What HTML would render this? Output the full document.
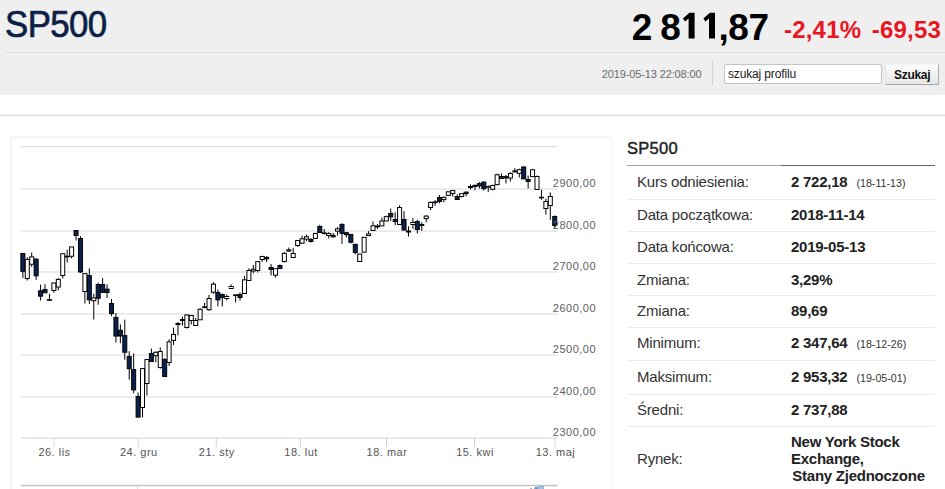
<!DOCTYPE html>
<html><head><meta charset="utf-8"><title>SP500</title>
<style>
*{margin:0;padding:0;box-sizing:border-box}
html,body{width:945px;height:489px;overflow:hidden;background:#fff;font-family:"Liberation Sans",sans-serif}
.a{position:absolute;white-space:nowrap}
#hdr{position:absolute;left:0;top:0;width:945px;height:95px;background:#efefef}
#l1{position:absolute;left:5px;top:52px;width:940px;height:1px;background:#d7d8d9;box-shadow:0 -1px 0 #f5f5f5,0 1px 0 #f5f5f5}
#l2{position:absolute;left:0;top:114px;width:945px;height:3px;background:linear-gradient(#efefef 0,#efefef 33%,#e6e6e6 33%,#e6e6e6 67%,#f4f4f4 67%)}
#title{left:5px;top:6px;font-size:37px;line-height:37px;font-weight:normal;-webkit-text-stroke:0.7px #0c1f47;color:#0c1f47;letter-spacing:-0.6px;transform:scaleX(0.94);transform-origin:0 0}
#price{left:631.8px;top:8.5px;font-size:37px;line-height:37px;font-weight:bold;color:#000;letter-spacing:-0.5px}
.red{font-size:24px;line-height:24px;font-weight:bold;color:#e8161f;top:17.7px}
#date{left:601.7px;top:68.7px;font-size:11px;line-height:11px;color:#6a6a6a;letter-spacing:-0.12px}
#sep{position:absolute;left:712px;top:61px;width:1px;height:25px;background:#d6d6d6}
#inp{position:absolute;left:724px;top:64px;width:158px;height:20px;border:1px solid #c4c4c4;border-radius:2px;background:#fff}
#inpt{left:728px;top:68px;font-size:12px;line-height:12px;color:#1a1a1a;letter-spacing:-0.15px}
#btn{position:absolute;left:885px;top:64px;width:54px;height:21px;border:1px solid;border-color:#f4f4f4 #b0b0b0 #a6a6a6 #e6e6e6;border-radius:1px;background:linear-gradient(#fcfcfc,#e6e6e6)}
#btnt{left:894px;top:68.5px;font-size:12px;line-height:12px;font-weight:bold;color:#111;letter-spacing:-0.3px}
#box{position:absolute;left:11px;top:137px;width:601px;height:360px;border:1px solid #f0f1f3;box-shadow:-1px -1px 0 #f6f7f8}
#chart{position:absolute;left:0;top:0}
.yl{font-size:11px;line-height:11px;color:#606060;letter-spacing:0.5px}
.xl{font-size:11px;line-height:11px;color:#555;letter-spacing:0.5px;width:100px;text-align:center;top:446.7px}
#ptitle{left:627px;top:140.4px;font-size:16.5px;line-height:16px;font-weight:normal;-webkit-text-stroke:0.45px #222;color:#222;letter-spacing:0.3px}
#pl1{position:absolute;left:627px;top:165px;width:154px;height:1px;background:#a0a0a0}
#pl2{position:absolute;left:781px;top:165px;width:154px;height:1px;background:#666}
.sepr{position:absolute;left:627px;width:308px;height:1px;background:#ececec}
.k{font-size:15px;line-height:15px;color:#333;left:637px;letter-spacing:-0.2px}
.v{font-size:15px;line-height:15px;color:#222;font-weight:bold;left:791px;letter-spacing:-0.25px}
.s{font-size:10.7px;font-weight:normal;letter-spacing:0;margin-left:9px;color:#333}
</style></head><body>
<div id="hdr"></div>
<div id="l1"></div>
<div class="a" id="title">SP500</div>
<div class="a" id="price">2<span style="display:inline-block;width:8.3px"></span>8<span style="display:inline-block;width:38.3px"></span>,87</div>
<div class="a red" style="left:784px;letter-spacing:0.2px">-2,41%</div>
<div class="a red" style="left:871.8px;letter-spacing:0.2px">-69,53</div>
<svg class="a" style="left:0;top:0" width="945" height="60" viewBox="0 0 945 60"><path d="M694.6 12.8V38.5H688.6V18.6L685.0 21.6L683.0 18.4L689.4 12.8ZM715.0 12.8V38.5H709.0V18.6L705.4 21.6L703.4 18.4L709.8 12.8Z" fill="#000"/></svg>
<div class="a" id="date">2019-05-13 22:08:00</div>
<div id="sep"></div>
<div id="inp"></div>
<div class="a" id="inpt">szukaj profilu</div>
<div id="btn"></div>
<div class="a" id="btnt">Szukaj</div>
<div id="l2"></div>
<div id="box"></div>
<svg id="chart" width="945" height="489" viewBox="0 0 945 489">
<g stroke="#d8d8d8" stroke-width="1" fill="none">
<path d="M21 146.65H557.5"/>
<path d="M21 189.0H557.5"/>
<path d="M21 231.04H557.5"/>
<path d="M21 272.0H557.5"/>
<path d="M21 314.0H557.5"/>
<path d="M21 355.06H557.5"/>
<path d="M21 396.96H557.5"/>
</g>
<g stroke="#c8d6e4" stroke-width="1" fill="none">
<path d="M21 438H557.5"/>
<path d="M54 438V447"/>
<path d="M138.3 438V447"/>
<path d="M216.3 438V447"/>
<path d="M300.6 438V447"/>
<path d="M386.5 438V447"/>
<path d="M474.5 438V447"/>
<path d="M555 438V447"/>
</g>
<path d="M21 485.5H557.5" stroke="#c4c4c4" stroke-width="1.5" fill="none"/>
<path d="M137.5 486V489" stroke="#ddd" stroke-width="1" fill="none"/>
<path d="M530 489L531 487.5L532 489Z M534 489L535.5 486.5L537.5 487L538 489Z" fill="#6f95c8"/>
<rect x="538.5" y="486.5" width="5" height="3" fill="#a9c4e6" stroke="#8fb0da" stroke-width="1"/>
<g stroke="#000" stroke-width="1">
<path d="M22.85 271.31V277.9"/>
<rect x="20.85" y="253.5" width="4" height="17.81" fill="#0a2150"/>
<path d="M27.28 257.25V259.41M27.28 278.5V280.5"/>
<rect x="25.28" y="259.41" width="4" height="19.09" fill="#fff"/>
<path d="M31.71 252.52V256.88M31.71 264.26V266.91"/>
<rect x="29.71" y="256.88" width="4" height="7.38" fill="#fff"/>
<path d="M36.15 258.18V259.18M36.15 275.83V279.84"/>
<rect x="34.15" y="259.18" width="4" height="16.64" fill="#0a2150"/>
<path d="M40.58 284.68V290.86M40.58 296.14V300.46"/>
<rect x="38.58" y="290.86" width="4" height="5.29" fill="#0a2150"/>
<path d="M45.01 284.15V289.55"/>
<rect x="43.01" y="289.55" width="4" height="3.25" fill="#0a2150"/>
<path d="M49.44 293.79V299.69M49.44 300.29V300.64"/>
<rect x="47.44" y="299.69" width="4" height="0.6" fill="#0a2150"/>
<path d="M53.88 282.64V283.01M53.88 290.5V292.78"/>
<rect x="51.88" y="283.01" width="4" height="7.49" fill="#fff"/>
<path d="M58.31 278V279.39M58.31 287.05V290.32"/>
<rect x="56.31" y="279.39" width="4" height="7.66" fill="#fff"/>
<path d="M62.74 275.53V278.47"/>
<rect x="60.74" y="253.75" width="4" height="21.77" fill="#fff"/>
<path d="M67.17 249.61V256.25M67.17 256.85V262.43"/>
<rect x="65.17" y="256.25" width="4" height="0.6" fill="#fff"/>
<path d="M71.61 256.26V258.34"/>
<rect x="69.61" y="246.94" width="4" height="9.32" fill="#fff"/>
<path d="M76.04 235.5V240.5"/>
<rect x="74.04" y="230.5" width="4" height="5" fill="#0a2150"/>
<path d="M80.47 236.22V238.5M80.47 271.95V273.14"/>
<rect x="78.47" y="238.5" width="4" height="33.45" fill="#0a2150"/>
<path d="M84.9 291.5V303.5"/>
<rect x="82.9" y="273.65" width="4" height="17.85" fill="#fff"/>
<path d="M89.33 268.42V275.61M89.33 299.81V303.94"/>
<rect x="87.33" y="275.61" width="4" height="24.2" fill="#0a2150"/>
<path d="M93.77 293.81V297.88M93.77 300.73V319.5"/>
<rect x="91.77" y="297.88" width="4" height="2.85" fill="#fff"/>
<path d="M98.2 282.64V284.5M98.2 298.27V304.71"/>
<rect x="96.2" y="284.5" width="4" height="13.77" fill="#0a2150"/>
<path d="M102.63 278.03V284.5M102.63 292.32V292.66"/>
<rect x="100.63" y="284.5" width="4" height="7.82" fill="#0a2150"/>
<path d="M107.06 284.37V289.15M107.06 292.55V298.07"/>
<rect x="105.06" y="289.15" width="4" height="3.39" fill="#0a2150"/>
<path d="M111.5 298.98V303.5M111.5 313.59V316.13"/>
<rect x="109.5" y="303.5" width="4" height="10.09" fill="#0a2150"/>
<path d="M115.93 313.1V317.42M115.93 336.06V342.47"/>
<rect x="113.93" y="317.42" width="4" height="18.64" fill="#0a2150"/>
<path d="M120.36 324.39V330.25M120.36 335.97V343.23"/>
<rect x="118.36" y="330.25" width="4" height="5.72" fill="#0a2150"/>
<path d="M124.79 319.69V335.6M124.79 352.27V359.76"/>
<rect x="122.79" y="335.6" width="4" height="16.68" fill="#0a2150"/>
<path d="M129.23 351.16V356.51M129.23 368.72V379.64"/>
<rect x="127.23" y="356.51" width="4" height="12.21" fill="#0a2150"/>
<path d="M133.66 353.34V369.57M133.66 389.86V393.21"/>
<rect x="131.66" y="369.57" width="4" height="20.28" fill="#0a2150"/>
<path d="M138.09 392.47V396.54"/>
<rect x="136.09" y="396.54" width="4" height="20.58" fill="#0a2150"/>
<path d="M142.52 407.5V417.5"/>
<rect x="140.52" y="368.61" width="4" height="38.89" fill="#fff"/>
<path d="M146.95 383.5V395.5"/>
<rect x="144.95" y="359.5" width="4" height="24" fill="#fff"/>
<path d="M151.39 348.5V353.5"/>
<rect x="149.39" y="353.5" width="4" height="8" fill="#0a2150"/>
<path d="M155.82 351.33V352.32M155.82 355.61V362.32"/>
<rect x="153.82" y="352.32" width="4" height="3.29" fill="#fff"/>
<path d="M160.25 347.5V351.5M160.25 367.5V368.7"/>
<rect x="158.25" y="351.5" width="4" height="16" fill="#fff"/>
<path d="M164.68 358.02V359.5"/>
<rect x="162.68" y="359.5" width="4" height="17" fill="#0a2150"/>
<path d="M169.12 339.33V341.88M169.12 362.5V365.85"/>
<rect x="167.12" y="341.88" width="4" height="20.62" fill="#fff"/>
<path d="M173.55 327.65V334.5M173.55 340.36V344.95"/>
<rect x="171.55" y="334.5" width="4" height="5.86" fill="#fff"/>
<path d="M177.98 321.96V323.5M177.98 324.5V335.39"/>
<rect x="175.98" y="323.5" width="4" height="1" fill="#0a2150"/>
<path d="M182.41 316.5V319.5M182.41 320.5V325.5"/>
<rect x="180.41" y="319.5" width="4" height="1" fill="#0a2150"/>
<path d="M186.85 314.48V314.97M186.85 327.5V328.5"/>
<rect x="184.85" y="314.97" width="4" height="12.53" fill="#fff"/>
<path d="M191.28 315.12V315.5M191.28 320.5V324.5"/>
<rect x="189.28" y="315.5" width="4" height="5" fill="#fff"/>
<path d="M195.71 318.01V320.5M195.71 325.5V325.88"/>
<rect x="193.71" y="320.5" width="4" height="5" fill="#fff"/>
<path d="M200.14 308.13V309.29"/>
<rect x="198.14" y="309.29" width="4" height="10.48" fill="#fff"/>
<path d="M204.57 302.85V306.87M204.57 307.47V308.3"/>
<rect x="202.57" y="306.87" width="4" height="0.6" fill="#fff"/>
<path d="M209.01 294.83V298.5M209.01 309.71V310.92"/>
<rect x="207.01" y="298.5" width="4" height="11.21" fill="#fff"/>
<path d="M213.44 282.17V284.15M213.44 292.24V293.78"/>
<rect x="211.44" y="284.15" width="4" height="8.09" fill="#fff"/>
<path d="M217.87 289.49V292.5M217.87 299.88V306.39"/>
<rect x="215.87" y="292.5" width="4" height="7.38" fill="#0a2150"/>
<path d="M222.3 293.5V294.5M222.3 297.5V306.5"/>
<rect x="220.3" y="294.5" width="4" height="3" fill="#0a2150"/>
<path d="M226.74 294.5V296.5M226.74 298.5V300.5"/>
<rect x="224.74" y="296.5" width="4" height="2" fill="#fff"/>
<path d="M231.17 284.5V286.5"/>
<rect x="229.17" y="286.5" width="4" height="2" fill="#fff"/>
<path d="M235.6 295.46V302.5"/>
<rect x="233.6" y="294.86" width="4" height="0.6" fill="#0a2150"/>
<path d="M240.03 292.38V294.5M240.03 297.5V300.65"/>
<rect x="238.03" y="294.5" width="4" height="3" fill="#0a2150"/>
<path d="M244.46 275.95V279.85"/>
<rect x="242.46" y="279.85" width="4" height="13.65" fill="#fff"/>
<path d="M248.9 268.25V270.5"/>
<rect x="246.9" y="270.5" width="4" height="10" fill="#fff"/>
<path d="M253.33 265.04V269.25M253.33 271V273.27"/>
<rect x="251.33" y="269.25" width="4" height="1.75" fill="#fff"/>
<path d="M257.76 270.5V272.49"/>
<rect x="255.76" y="261.62" width="4" height="8.88" fill="#fff"/>
<path d="M262.19 255.75V256.5M262.19 259.5V261.97"/>
<rect x="260.19" y="256.5" width="4" height="3" fill="#fff"/>
<path d="M266.63 256.13V257.39M266.63 258.82V261.92"/>
<rect x="264.63" y="257.39" width="4" height="1.43" fill="#0a2150"/>
<path d="M271.06 263.93V267.5M271.06 269.45V275.5"/>
<rect x="269.06" y="267.5" width="4" height="1.95" fill="#0a2150"/>
<path d="M275.49 275.15V277.5"/>
<rect x="273.49" y="268.69" width="4" height="6.46" fill="#fff"/>
<path d="M279.92 264.5V265.5"/>
<rect x="277.92" y="265.5" width="4" height="3" fill="#0a2150"/>
<path d="M284.36 251.92V253.36M284.36 261.5V262.56"/>
<rect x="282.36" y="253.36" width="4" height="8.14" fill="#fff"/>
<path d="M288.79 247.5V249.91M288.79 251.05V251.5"/>
<rect x="286.79" y="249.91" width="4" height="1.14" fill="#fff"/>
<path d="M293.22 247.88V253.5"/>
<rect x="291.22" y="253.5" width="4" height="4" fill="#fff"/>
<path d="M297.65 245.5V246.91"/>
<rect x="295.65" y="240.52" width="4" height="4.98" fill="#fff"/>
<path d="M302.08 235.64V238.79M302.08 243.15V243.98"/>
<rect x="300.08" y="238.79" width="4" height="4.36" fill="#fff"/>
<path d="M306.52 234.58V236.73M306.52 239.09V241.16"/>
<rect x="304.52" y="236.73" width="4" height="2.35" fill="#fff"/>
<path d="M310.95 238.03V239.5M310.95 241.5V242.5"/>
<rect x="308.95" y="239.5" width="4" height="2" fill="#0a2150"/>
<path d="M315.38 232.78V233.42M315.38 238.41V239.06"/>
<rect x="313.38" y="233.42" width="4" height="4.99" fill="#fff"/>
<path d="M319.81 224.76V226.5"/>
<rect x="317.81" y="226.5" width="4" height="6" fill="#0a2150"/>
<path d="M324.25 229.07V232.91M324.25 233.55V234.5"/>
<rect x="322.25" y="232.91" width="4" height="0.64" fill="#fff"/>
<path d="M328.68 232.13V233.54M328.68 235.57V238.5"/>
<rect x="326.68" y="233.54" width="4" height="2.03" fill="#fff"/>
<path d="M333.11 232.98V235.32M333.11 236.82V237.65"/>
<rect x="331.11" y="235.32" width="4" height="1.51" fill="#0a2150"/>
<path d="M337.54 227.03V228.83M337.54 231.11V235.62"/>
<rect x="335.54" y="228.83" width="4" height="2.28" fill="#fff"/>
<path d="M341.98 223.35V224.39M341.98 233.36V243.82"/>
<rect x="339.98" y="224.39" width="4" height="8.97" fill="#0a2150"/>
<path d="M346.41 231.85V232.7M346.41 234.68V237.45"/>
<rect x="344.41" y="232.7" width="4" height="1.98" fill="#0a2150"/>
<path d="M350.84 242.25V243.39"/>
<rect x="348.84" y="234.42" width="4" height="7.83" fill="#0a2150"/>
<path d="M355.27 252.5V254.5"/>
<rect x="353.27" y="244.29" width="4" height="8.21" fill="#0a2150"/>
<path d="M359.7 253.61V254.05"/>
<rect x="357.7" y="254.05" width="4" height="7.45" fill="#fff"/>
<rect x="362.14" y="237.32" width="4" height="14.85" fill="#fff"/>
<path d="M368.57 231.07V233.9"/>
<rect x="366.57" y="233.9" width="4" height="1.74" fill="#fff"/>
<path d="M373 221.53V225.83"/>
<rect x="371" y="225.83" width="4" height="4.63" fill="#fff"/>
<path d="M377.43 224.13V226.05M377.43 226.84V228.93"/>
<rect x="375.43" y="226.05" width="4" height="0.79" fill="#0a2150"/>
<path d="M381.87 217.59V221.02"/>
<rect x="379.87" y="221.02" width="4" height="4.86" fill="#fff"/>
<path d="M386.3 215.64V216.67"/>
<rect x="384.3" y="216.67" width="4" height="4.3" fill="#fff"/>
<path d="M390.73 208.56V213.41M390.73 216.82V220.69"/>
<rect x="388.73" y="213.41" width="4" height="3.41" fill="#0a2150"/>
<path d="M395.16 212.26V219.5M395.16 221.5V225.2"/>
<rect x="393.16" y="219.5" width="4" height="2" fill="#0a2150"/>
<path d="M399.6 205.28V207.54"/>
<rect x="397.6" y="207.54" width="4" height="16.96" fill="#fff"/>
<path d="M404.03 211.17V219.5"/>
<rect x="402.03" y="219.5" width="4" height="10.57" fill="#0a2150"/>
<path d="M408.46 226.3V231.05M408.46 232.03V236.6"/>
<rect x="406.46" y="231.05" width="4" height="0.98" fill="#fff"/>
<path d="M412.89 217.94V222.5M412.89 224.5V228.71"/>
<rect x="410.89" y="222.5" width="4" height="2" fill="#fff"/>
<path d="M417.32 219.74V221.5M417.32 229.5V233.5"/>
<rect x="415.32" y="221.5" width="4" height="8" fill="#0a2150"/>
<path d="M421.76 222.17V224.5M421.76 225.5V230.88"/>
<rect x="419.76" y="224.5" width="4" height="1" fill="#0a2150"/>
<path d="M426.19 215.38V216.06M426.19 218.61V222.37"/>
<rect x="424.19" y="216.06" width="4" height="2.55" fill="#fff"/>
<path d="M430.62 201.5V202.42M430.62 207.5V210.14"/>
<rect x="428.62" y="202.42" width="4" height="5.08" fill="#fff"/>
<path d="M435.05 200.04V201.98M435.05 202.58V205.93"/>
<rect x="433.05" y="201.98" width="4" height="0.6" fill="#0a2150"/>
<path d="M439.49 194.91V197.5M439.49 201.5V203.26"/>
<rect x="437.49" y="197.5" width="4" height="4" fill="#0a2150"/>
<path d="M443.92 196.56V197.34M443.92 199.59V202.44"/>
<rect x="441.92" y="197.34" width="4" height="2.25" fill="#fff"/>
<path d="M448.35 195.36V195.85"/>
<rect x="446.35" y="191.79" width="4" height="3.57" fill="#fff"/>
<path d="M452.78 193.57V196.77"/>
<rect x="450.78" y="190.53" width="4" height="3.04" fill="#fff"/>
<path d="M457.22 194.23V196.5M457.22 199.5V199.86"/>
<rect x="455.22" y="196.5" width="4" height="3" fill="#0a2150"/>
<path d="M461.65 193.05V193.67M461.65 196.52V197.45"/>
<rect x="459.65" y="193.67" width="4" height="2.85" fill="#fff"/>
<path d="M466.08 191.51V192.13M466.08 193.63V196.26"/>
<rect x="464.08" y="192.13" width="4" height="1.5" fill="#0a2150"/>
<path d="M470.51 184.39V186.5M470.51 187.5V189.45"/>
<rect x="468.51" y="186.5" width="4" height="1" fill="#0a2150"/>
<path d="M474.94 184.78V185.31M474.94 186.45V190.23"/>
<rect x="472.94" y="185.31" width="4" height="1.14" fill="#0a2150"/>
<path d="M479.38 182.09V183.67M479.38 185.83V188.47"/>
<rect x="477.38" y="183.67" width="4" height="2.16" fill="#0a2150"/>
<path d="M483.81 181.28V182.1M483.81 188.58V190.66"/>
<rect x="481.81" y="182.1" width="4" height="6.49" fill="#0a2150"/>
<path d="M488.24 185.28V186.68M488.24 187.28V192.14"/>
<rect x="486.24" y="186.68" width="4" height="0.6" fill="#fff"/>
<path d="M492.67 184.81V185.45M492.67 189.28V190.29"/>
<rect x="490.67" y="185.45" width="4" height="3.82" fill="#fff"/>
<path d="M497.11 173.67V174.76M497.11 184.61V185.22"/>
<rect x="495.11" y="174.76" width="4" height="9.86" fill="#fff"/>
<path d="M501.54 173.45V176.5"/>
<rect x="499.54" y="176.5" width="4" height="2" fill="#0a2150"/>
<path d="M505.97 175V176.71M505.97 177.88V183.43"/>
<rect x="503.97" y="176.71" width="4" height="1.17" fill="#0a2150"/>
<path d="M510.4 172.18V173.5M510.4 178.03V181.47"/>
<rect x="508.4" y="173.5" width="4" height="4.53" fill="#fff"/>
<path d="M514.84 168.17V170.87M514.84 171.89V172.4"/>
<rect x="512.84" y="170.87" width="4" height="1.02" fill="#fff"/>
<path d="M519.27 168.71V169.7M519.27 173.32V177.5"/>
<rect x="517.27" y="169.7" width="4" height="3.62" fill="#fff"/>
<path d="M523.7 166.25V167"/>
<rect x="521.7" y="167" width="4" height="11.9" fill="#0a2150"/>
<path d="M528.13 175.59V179.55M528.13 181.48V188.56"/>
<rect x="526.13" y="179.55" width="4" height="1.93" fill="#0a2150"/>
<path d="M532.56 168.86V169.78"/>
<rect x="530.56" y="169.78" width="4" height="6.83" fill="#fff"/>
<path d="M537 175.5V176.5"/>
<rect x="535" y="176.5" width="4" height="13" fill="#fff"/>
<path d="M541.43 189.62V197.25M541.43 197.85V199.89"/>
<rect x="539.43" y="197.25" width="4" height="0.6" fill="#0a2150"/>
<path d="M545.86 198.77V201.5M545.86 208.5V214.5"/>
<rect x="543.86" y="201.5" width="4" height="7" fill="#fff"/>
<path d="M550.29 192.39V196.51M550.29 205.5V219.81"/>
<rect x="548.29" y="196.51" width="4" height="8.99" fill="#fff"/>
<path d="M554.73 215.5V216.5M554.73 225.5V228.5"/>
<rect x="552.73" y="216.5" width="4" height="9" fill="#0a2150"/>
</g>
</svg>
<div class="a yl" style="left:552.8px;top:177.7px">2900,00</div>
<div class="a yl" style="left:552.8px;top:219.9px">2800,00</div>
<div class="a yl" style="left:552.8px;top:260.9px">2700,00</div>
<div class="a yl" style="left:552.8px;top:302.9px">2600,00</div>
<div class="a yl" style="left:552.8px;top:344.0px">2500,00</div>
<div class="a yl" style="left:552.8px;top:385.9px">2400,00</div>
<div class="a yl" style="left:552.8px;top:426.9px">2300,00</div>
<div class="a xl" style="left:4.5px">26. lis</div>
<div class="a xl" style="left:88.8px">24. gru</div>
<div class="a xl" style="left:166.8px">21. sty</div>
<div class="a xl" style="left:251.1px">18. lut</div>
<div class="a xl" style="left:337.0px">18. mar</div>
<div class="a xl" style="left:425.0px">15. kwi</div>
<div class="a xl" style="left:505.5px">13. maj</div>

<div class="a" id="ptitle">SP500</div>
<div id="pl1"></div><div id="pl2"></div>
<div class="a k" style="top:174.15px">Kurs odniesienia:</div>
<div class="a v" style="top:174.15px">2 722,18<span class="s">(18-11-13)</span></div>
<div class="sepr" style="top:199px"></div>
<div class="a k" style="top:207.15px">Data początkowa:</div>
<div class="a v" style="top:207.15px">2018-11-14</div>
<div class="sepr" style="top:231px"></div>
<div class="a k" style="top:239.15px">Data końcowa:</div>
<div class="a v" style="top:239.15px">2019-05-13</div>
<div class="sepr" style="top:263px"></div>
<div class="a k" style="top:272.15px">Zmiana:</div>
<div class="a v" style="top:272.15px">3,29%</div>
<div class="sepr" style="top:295px"></div>
<div class="a k" style="top:303.15px">Zmiana:</div>
<div class="a v" style="top:303.15px">89,69</div>
<div class="sepr" style="top:327px"></div>
<div class="a k" style="top:335.15px">Minimum:</div>
<div class="a v" style="top:335.15px">2 347,64<span class="s">(18-12-26)</span></div>
<div class="sepr" style="top:360px"></div>
<div class="a k" style="top:369.15px">Maksimum:</div>
<div class="a v" style="top:369.15px">2 953,32<span class="s">(19-05-01)</span></div>
<div class="sepr" style="top:394px"></div>
<div class="a k" style="top:402.15px">Średni:</div>
<div class="a v" style="top:402.15px">2 737,88</div>
<div class="sepr" style="top:426px"></div>
<div class="a k" style="top:451.15px">Rynek:</div>
<div class="a v" style="top:433.15px;line-height:17px">New York Stock<br>Exchange,<br><span style="margin-left:1.3px">Stany Zjednoczone</span></div>
</body></html>
